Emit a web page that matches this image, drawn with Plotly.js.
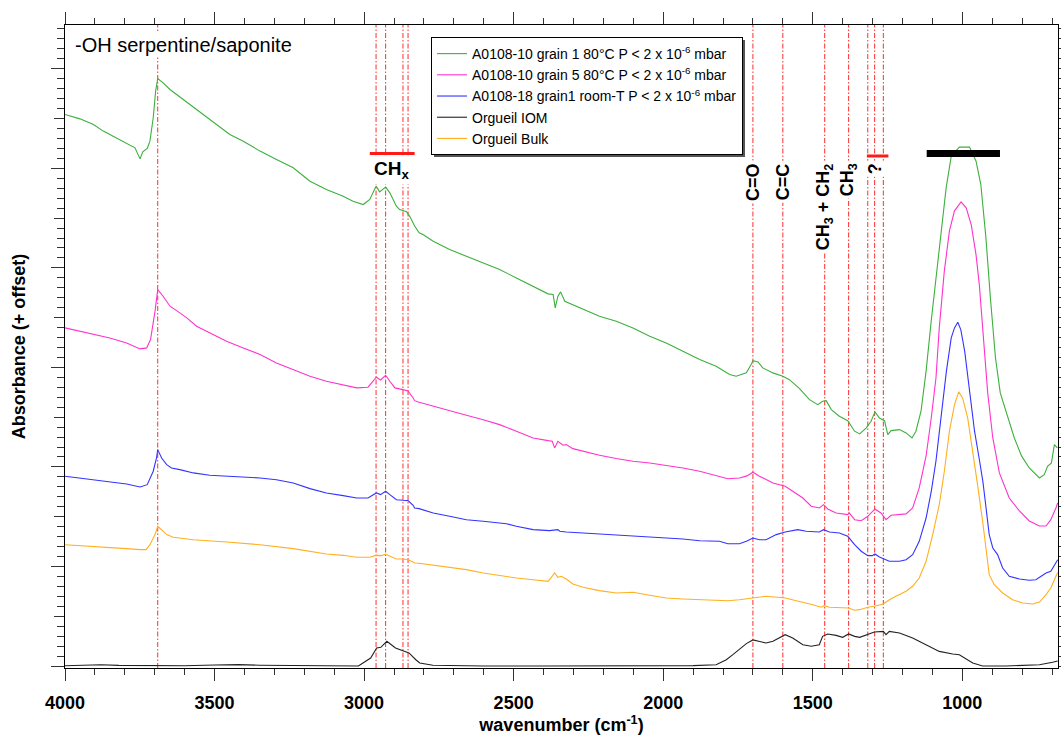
<!DOCTYPE html>
<html>
<head>
<meta charset="utf-8">
<script src="https://cdn.plot.ly/plotly-3.0.1.min.js"></script>
<style>html,body{margin:0;padding:0;background:#fff;}#chart{width:1061px;height:739px;}</style>
</head>
<body>
<div id="chart"></div>
<script>
// ---- Data (wavenumber in cm^-1, absorbance in offset units) ----
const seriesNames = [
  'A0108-10 grain 1 80°C P &lt; 2 x 10<sup>-6</sup> mbar',
  'A0108-10 grain 5 80°C P &lt; 2 x 10<sup>-6</sup> mbar',
  'A0108-18 grain1 room-T P &lt; 2 x 10<sup>-6</sup> mbar',
  'Orgueil IOM',
  'Orgueil Bulk'
];

const grain1Wn = [4000,3950,3905,3872,3839,3794,3766,3749,3740,3725,3716,3705,3697,3690,3672,3649,3627,3605,3582,3560,3527,3493,3449,3404,3348,3293,3237,3181,3126,3070,3037,3003,2981,2960,2948,2928,2914,2892,2881,2858,2847,2831,2816,2803,2769,2714,2658,2602,2547,2491,2435,2385,2368,2361,2352,2343,2329,2279,2213,2157,2101,2045,1990,1934,1878,1823,1778,1756,1722,1706,1700,1683,1667,1633,1600,1578,1544,1511,1483,1467,1455,1438,1411,1383,1360,1343,1321,1305,1292,1277,1260,1249,1238,1210,1188,1168,1155,1138,1121,1104,1088,1071,1054,1037,1010,976,954,938,921,906,889,873,849,826,802,776,742,726,715,702,692,682];
const grain1Abs = [5.541,5.497,5.440,5.374,5.323,5.256,5.206,5.095,5.166,5.199,5.273,5.508,5.776,5.903,5.859,5.792,5.742,5.692,5.641,5.591,5.508,5.440,5.340,5.273,5.173,5.089,5.005,4.871,4.787,4.720,4.670,4.636,4.687,4.821,4.764,4.811,4.754,4.620,4.586,4.565,4.515,4.420,4.352,4.335,4.268,4.184,4.117,4.050,3.983,3.899,3.816,3.739,3.732,3.598,3.715,3.759,3.665,3.598,3.514,3.464,3.397,3.313,3.246,3.163,3.079,3.012,2.928,2.911,2.945,3.028,3.068,3.055,2.995,2.945,2.911,2.877,2.787,2.676,2.626,2.660,2.666,2.576,2.509,2.465,2.359,2.332,2.392,2.459,2.553,2.492,2.465,2.325,2.365,2.375,2.342,2.291,2.359,2.560,2.962,3.464,3.899,4.302,4.804,5.122,5.213,5.213,5.072,4.837,4.302,3.698,3.095,2.744,2.513,2.291,2.111,1.990,1.889,1.923,2.007,2.040,2.224,2.191];

const grain5Wn = [4000,3905,3850,3794,3749,3727,3714,3699,3690,3672,3649,3616,3593,3560,3516,3460,3404,3348,3293,3237,3181,3126,3070,3025,2987,2970,2959,2945,2928,2914,2897,2870,2853,2836,2831,2816,2769,2714,2658,2602,2547,2491,2435,2385,2371,2363,2352,2335,2324,2302,2257,2213,2157,2101,2045,1990,1934,1878,1823,1784,1745,1720,1700,1678,1633,1592,1567,1533,1505,1478,1464,1450,1422,1383,1378,1360,1338,1316,1292,1272,1255,1238,1188,1166,1144,1121,1104,1088,1077,1060,1043,1026,1004,987,970,954,943,926,915,898,876,843,809,776,742,720,704,687,681];
const grain5Abs = [3.397,3.337,3.296,3.246,3.186,3.196,3.280,3.565,3.782,3.715,3.615,3.548,3.497,3.414,3.347,3.263,3.196,3.129,3.045,2.978,2.911,2.861,2.827,2.794,2.801,2.861,2.901,2.874,2.921,2.861,2.794,2.777,2.764,2.693,2.666,2.650,2.610,2.560,2.520,2.475,2.425,2.359,2.291,2.264,2.258,2.191,2.258,2.218,2.224,2.184,2.151,2.117,2.084,2.057,2.040,2.017,1.990,1.957,1.916,1.882,1.889,1.910,1.947,1.907,1.839,1.806,1.756,1.688,1.605,1.588,1.621,1.578,1.538,1.521,1.538,1.470,1.460,1.504,1.578,1.538,1.470,1.514,1.528,1.588,1.789,2.110,2.487,2.894,3.397,3.970,4.372,4.573,4.663,4.603,4.432,4.131,3.829,3.196,2.744,2.291,1.940,1.688,1.558,1.457,1.407,1.407,1.470,1.588,1.638];

const grain18Wn = [4000,3905,3850,3794,3749,3725,3705,3694,3690,3677,3660,3644,3616,3571,3516,3460,3404,3348,3293,3237,3181,3126,3070,3025,2987,2970,2959,2945,2928,2914,2892,2870,2853,2836,2831,2816,2769,2714,2658,2602,2547,2524,2491,2435,2380,2352,2346,2324,2268,2213,2157,2101,2045,1990,1934,1878,1834,1812,1784,1745,1720,1700,1678,1656,1622,1592,1550,1522,1478,1464,1444,1411,1383,1360,1338,1316,1301,1292,1277,1255,1244,1210,1188,1166,1144,1121,1104,1088,1071,1060,1053,1037,1026,1015,1005,992,976,959,942,931,921,910,898,882,865,843,809,776,754,737,720,704,692,681];
const grain18Abs = [1.907,1.872,1.849,1.829,1.799,1.822,1.957,2.090,2.174,2.090,2.023,1.990,1.973,1.940,1.916,1.907,1.899,1.889,1.872,1.839,1.782,1.739,1.712,1.688,1.688,1.716,1.739,1.722,1.756,1.722,1.671,1.665,1.662,1.615,1.588,1.581,1.538,1.504,1.470,1.454,1.437,1.430,1.404,1.370,1.360,1.370,1.354,1.347,1.337,1.327,1.320,1.313,1.303,1.293,1.276,1.259,1.253,1.253,1.229,1.229,1.255,1.286,1.269,1.269,1.320,1.347,1.370,1.354,1.347,1.370,1.347,1.337,1.303,1.219,1.153,1.109,1.109,1.126,1.095,1.068,1.052,1.052,1.068,1.119,1.253,1.487,1.750,2.060,2.490,2.800,2.965,3.296,3.397,3.454,3.380,3.163,2.761,2.359,2.057,1.850,1.600,1.320,1.186,1.119,0.985,0.902,0.874,0.861,0.867,0.902,0.935,0.952,1.018,1.068];

const iomWn = [4000,3950,3880,3820,3760,3700,3600,3500,3420,3350,3250,3150,3060,3019,2978,2958,2944,2924,2895,2865,2850,2827,2814,2770,2700,2600,2400,2200,2000,1900,1823,1789,1767,1745,1722,1700,1678,1656,1633,1592,1567,1533,1505,1478,1467,1450,1422,1400,1380,1360,1343,1316,1294,1264,1255,1244,1210,1166,1121,1077,1032,1010,965,932,854,798,742,698,681];
const iomAbs = [0.003,0.008,0.012,0.006,0.004,0.000,0.002,0.010,0.014,0.008,0.006,0.004,0.002,0.000,0.080,0.181,0.188,0.248,0.181,0.147,0.131,0.063,0.030,0.007,0.003,0.000,0.000,0.002,0.006,0.004,0.013,0.063,0.114,0.170,0.225,0.262,0.248,0.231,0.248,0.315,0.281,0.214,0.198,0.214,0.298,0.322,0.308,0.288,0.322,0.298,0.288,0.322,0.342,0.348,0.315,0.348,0.332,0.281,0.214,0.147,0.121,0.114,0.030,0.000,0.000,0.007,0.013,0.037,0.050];

const bulkWn = [4000,3905,3794,3749,3729,3716,3699,3690,3677,3660,3638,3571,3460,3348,3237,3181,3126,3070,3025,2981,2964,2953,2942,2928,2914,2892,2870,2853,2836,2831,2816,2769,2658,2602,2547,2491,2435,2385,2374,2363,2352,2341,2324,2302,2268,2213,2157,2118,2101,2045,1990,1934,1878,1823,1784,1745,1717,1700,1656,1592,1544,1500,1472,1461,1444,1411,1380,1360,1343,1316,1294,1264,1244,1222,1188,1166,1144,1121,1099,1077,1060,1043,1026,1012,999,982,965,949,932,921,910,893,865,832,798,765,742,720,704,687,681];
const bulkAbs = [1.219,1.203,1.179,1.169,1.169,1.219,1.320,1.404,1.370,1.320,1.293,1.269,1.246,1.219,1.179,1.153,1.126,1.112,1.092,1.092,1.109,1.112,1.109,1.122,1.102,1.075,1.075,1.068,1.045,1.035,1.032,1.012,0.968,0.935,0.908,0.884,0.867,0.851,0.891,0.935,0.891,0.902,0.874,0.824,0.791,0.757,0.734,0.744,0.741,0.711,0.683,0.673,0.666,0.660,0.656,0.666,0.676,0.683,0.701,0.683,0.650,0.616,0.590,0.606,0.590,0.590,0.583,0.560,0.566,0.590,0.600,0.623,0.666,0.701,0.751,0.801,0.884,1.052,1.320,1.621,1.957,2.359,2.626,2.754,2.693,2.492,2.158,1.822,1.454,1.153,0.918,0.817,0.734,0.666,0.633,0.623,0.643,0.717,0.784,0.902,0.940];

// band positions (cm^-1)
const bandLines = [3690, 2960, 2928, 2870, 2853, 1700, 1600, 1460, 1380, 1316, 1293, 1264];
const bandLabels = ['C=O', 'C=C', 'CH<sub>3</sub> + CH<sub>2</sub>', 'CH<sub>3</sub>', '?'];
const bandLabelWn = [1700, 1600, 1460, 1380, 1293];
const chxRange = [2981, 2831];
const unknownRange = [1319, 1247];
const silicateRange = [1119, 874];

const xTickVals = [4000, 3500, 3000, 2500, 2000, 1500, 1000];

// ---- Plot ----
const FONT = 'Liberation Sans, Arial, Helvetica, sans-serif';
const colors = ['#3cb03c', '#ff33cc', '#3333ff', '#222222', '#ffb020'];
const wns = [grain1Wn, grain5Wn, grain18Wn, iomWn, bulkWn];
const abss = [grain1Abs, grain5Abs, grain18Abs, iomAbs, bulkAbs];

const traces = wns.map((w, i) => ({
  type: 'scatter', mode: 'lines', x: w, y: abss[i], name: seriesNames[i],
  line: {color: colors[i], width: 1.1}, hoverinfo: 'skip'
}));
// helper trace for medium ticks axis
traces.push({type: 'scatter', mode: 'lines', x: [null], y: [null], yaxis: 'y2', showlegend: false, hoverinfo: 'skip'});

const YR = [-0.02, 6.44];
const shapes = bandLines.map(w => ({
  type: 'line', xref: 'x', yref: 'paper', x0: w, x1: w, y0: 0, y1: 1, layer: 'below',
  line: {color: 'rgb(255,45,45)', width: 1, dash: '5px,2px,1.5px,2px'}
}));
const barY = p => (668 - p) / 643;
const barX = p => (p - 65) / 993;
shapes.push({type: 'line', xref: 'x', yref: 'paper', x0: chxRange[0], x1: chxRange[1], y0: barY(153.5), y1: barY(153.5), line: {color: '#ff1a1a', width: 3}});
shapes.push({type: 'line', xref: 'x', yref: 'paper', x0: unknownRange[0], x1: unknownRange[1], y0: barY(156), y1: barY(156), line: {color: '#ff1a1a', width: 3}});
shapes.push({type: 'line', xref: 'x', yref: 'paper', x0: silicateRange[0], x1: silicateRange[1], y0: barY(153.5), y1: barY(153.5), line: {color: '#000000', width: 7}});
// legend drop shadow
shapes.push({type: 'rect', xref: 'paper', yref: 'paper', x0: barX(434), x1: barX(745), y0: barY(157), y1: barY(40), layer: 'above',
  fillcolor: '#555', line: {width: 0}});

const annotations = [];
annotations.push({xref: 'paper', yref: 'paper', x: 0.008, y: barY(45), xanchor: 'left', yanchor: 'middle',
  text: '-OH serpentine/saponite', showarrow: false, bgcolor: 'white', borderpad: 1,
  font: {family: FONT, size: 20, color: '#000'}});
annotations.push({xref: 'x', yref: 'paper', x: 2910, y: barY(155), xanchor: 'center', yanchor: 'top',
  text: 'CH<sub>x</sub>', showarrow: false, bgcolor: 'white', borderpad: 2,
  font: {family: FONT, size: 19, color: '#000', weight: 'bold'}});
bandLabelWn.forEach((w, i) => {
  annotations.push({xref: 'x', yref: 'paper', x: w, y: barY(160), xanchor: 'center', yanchor: 'top',
    text: bandLabels[i], textangle: -90, showarrow: false, bgcolor: 'white', borderpad: 2,
    font: {family: FONT, size: 18, color: '#000', weight: 'bold'}});
});

const axisCommon = {
  showline: true, linecolor: '#000', linewidth: 1, mirror: 'ticks', ticks: 'outside',
  tickcolor: '#333', tickwidth: 1, showgrid: false, zeroline: false
};

const layout = {
  width: 1061, height: 739,
  margin: {l: 65, r: 3, t: 25, b: 71},
  paper_bgcolor: '#fff', plot_bgcolor: '#fff',
  showlegend: true,
  legend: {x: 0.3686, y: 0.9813, xanchor: 'left', yanchor: 'top', bgcolor: 'white',
    bordercolor: '#000', borderwidth: 1, font: {family: FONT, size: 14, color: '#000'},
    tracegroupgap: 0, itemwidth: 30},
  xaxis: Object.assign({}, axisCommon, {
    range: [4000, 680], tickvals: xTickVals, ticklen: 12, ticklabelstandoff: 6,
    minor: {dtick: 100, ticklen: 6, tickcolor: '#333', ticks: 'outside', showgrid: false},
    tickfont: {family: FONT, size: 18, color: '#000', weight: 'bold'},
    title: {text: 'wavenumber (cm<sup>-1</sup>)', standoff: 0, font: {family: FONT, size: 18, color: '#000', weight: 'bold'}}
  }),
  yaxis: Object.assign({}, axisCommon, {
    range: YR, dtick: 1, tick0: 0, ticklen: 13, showticklabels: false,
    minor: {dtick: 0.1, ticklen: 7, tickcolor: '#333', ticks: 'outside', showgrid: false},
    title: {text: 'Absorbance (+ offset)', standoff: 20, font: {family: FONT, size: 18, color: '#000', weight: 'bold'}}
  }),
  yaxis2: {overlaying: 'y', side: 'left', range: YR, tickvals: [0.5,1.5,2.5,3.5,4.5,5.5],
    ticks: 'outside', ticklen: 10, tickcolor: '#333', mirror: 'ticks', showline: false,
    showticklabels: false, showgrid: false, zeroline: false},
  shapes: shapes,
  annotations: annotations,
  hovermode: false
};

Plotly.newPlot('chart', traces, layout, {displayModeBar: false, responsive: false});
</script>
</body>
</html>
